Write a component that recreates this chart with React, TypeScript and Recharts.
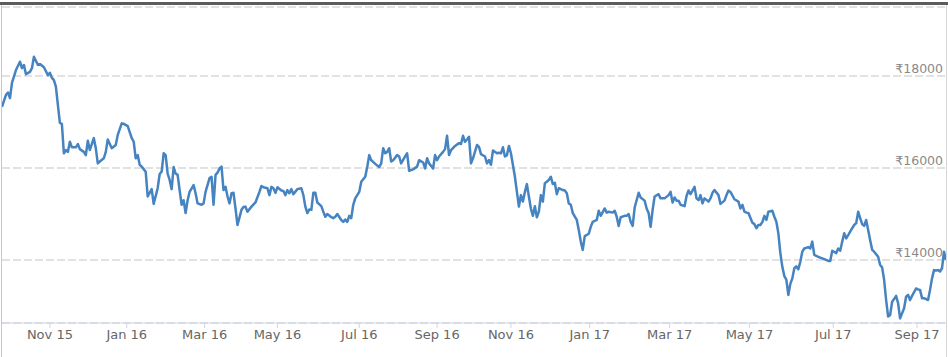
import { LineChart, Line, XAxis, YAxis, CartesianGrid } from "recharts";

// Trading session number (ordinal axis, weekends skipped) and closing price in ₹
const sessions = [
  0, 2, 3, 4, 5, 7, 9, 10, 11, 12,
  14, 15, 16, 18, 19, 21, 23, 24, 25, 26,
  27, 28, 29, 30, 31, 32, 33, 34, 35, 37,
  38, 39, 41, 42, 43, 44, 46, 47, 48, 49,
  51, 52, 53, 55, 57, 58, 60, 61, 63, 65,
  66, 67, 68, 69, 70, 72, 73, 75, 76, 78,
  79, 80, 81, 82, 83, 84, 85, 86, 87, 88,
  89, 90, 91, 92, 93, 94, 96, 97, 98, 100,
  101, 102, 104, 105, 106, 107, 108, 109, 110, 111,
  112, 113, 114, 115, 116, 117, 118, 120, 121, 122,
  123, 125, 127, 129, 130, 131, 133, 134, 135, 136,
  137, 138, 140, 141, 142, 143, 144, 145, 146, 148,
  150, 151, 152, 153, 154, 155, 156, 157, 158, 160,
  161, 162, 163, 165, 166, 167, 168, 170, 171, 172,
  173, 174, 175, 176, 177, 179, 180, 182, 183, 184,
  185, 187, 189, 190, 191, 192, 193, 194, 195, 196,
  198, 199, 200, 202, 203, 204, 206, 208, 209, 211,
  212, 213, 214, 216, 217, 218, 219, 221, 222, 223,
  224, 225, 227, 229, 230, 231, 232, 233, 234, 235,
  236, 238, 239, 240, 242, 243, 244, 245, 246, 248,
  249, 250, 251, 252, 253, 254, 255, 257, 258, 259,
  260, 261, 262, 263, 264, 265, 266, 267, 268, 269,
  270, 271, 272, 273, 274, 275, 276, 277, 278, 279,
  281, 282, 283, 284, 285, 286, 288, 289, 290, 291,
  292, 294, 295, 296, 298, 299, 300, 302, 303, 304,
  306, 307, 308, 309, 310, 312, 313, 314, 315, 316,
  317, 319, 320, 322, 323, 324, 325, 326, 327, 329,
  330, 332, 334, 335, 336, 337, 338, 339, 340, 342,
  343, 344, 345, 347, 348, 349, 350, 351, 352, 354,
  355, 356, 357, 359, 360, 362, 363, 364, 365, 367,
  369, 370, 371, 372, 373, 374, 376, 377, 378, 379,
  380, 381, 382, 383, 384, 386, 387, 388, 389, 390,
  391, 392, 393, 394, 395, 396, 397, 398, 399, 400,
  401, 402, 404, 405, 406, 407, 409, 410, 412, 414,
  415, 416, 418, 419, 420, 421, 422, 423, 424, 426,
  427, 428, 429, 430, 431, 432, 433, 434, 435, 436,
  437, 439, 440, 441, 442, 443, 444, 445, 446, 447,
  448, 449, 450, 451, 452, 453, 454, 455, 456, 458,
  459, 460, 461, 462, 464, 465, 466, 467, 468, 469,
  470, 471, 472, 473,
];

const closes = [
  17330, 17590, 17640, 17520, 17850, 18130, 18310, 18170, 18240, 18040,
  18090, 18170, 18420, 18240, 18260, 18190, 18020, 18070, 17960, 17910,
  17770, 17370, 16980, 16960, 16320, 16390, 16350, 16570, 16450, 16450,
  16520, 16410, 16350, 16280, 16590, 16390, 16650, 16430, 16100, 16140,
  16210, 16350, 16620, 16430, 16500, 16720, 16970, 16960, 16910, 16650,
  16570, 16210, 16280, 16070, 16030, 15920, 15380, 15540, 15220, 15560,
  15870, 15920, 16320, 16280, 15880, 15740, 15540, 16020, 15880, 15850,
  15520, 15200, 15300, 15020, 15300, 15480, 15630, 15450, 15230, 15200,
  15230, 15480, 15780, 15810, 15200, 15850, 15900, 15990, 16030, 15520,
  15590, 15380, 15230, 15450, 15460, 15120, 14760, 15090, 15150, 15160,
  15050, 15160, 15250, 15480, 15610, 15580, 15560, 15410, 15590, 15560,
  15460, 15580, 15510, 15500, 15410, 15520, 15450, 15540, 15430, 15540,
  15560, 15410, 15160, 15020, 15100, 15090, 15460, 15460, 15250, 15170,
  15050, 14940, 15000, 14930, 14910, 14940, 15000, 14870, 14830, 14880,
  14830, 14960, 14910, 15200, 15340, 15480, 15700, 15810, 16020, 16280,
  16170, 16090, 16020, 16100, 16430, 16320, 16350, 16430, 16140, 16170,
  16280, 16250, 16100, 16250, 16320, 15940, 15970, 16030, 16170, 16120,
  15990, 16210, 16100, 15990, 16280, 16170, 16250, 16350, 16410, 16700,
  16280, 16390, 16480, 16540, 16520, 16700, 16570, 16620, 16680, 16100,
  16210, 16500, 16460, 16300, 16250, 16100, 16170, 16070, 16380, 16320,
  16330, 16320, 16450, 16250, 16280, 16480, 16320, 15810, 15480, 15160,
  15410, 15270, 15480, 15650, 15380, 15120, 14960, 15170, 14930, 15050,
  15410, 15270, 15670, 15700, 15740, 15810, 15650, 15680, 15430, 15560,
  15520, 15510, 15450, 15230, 15200, 15020, 14870, 14650, 14400, 14220,
  14520, 14570, 14720, 14830, 14870, 15070, 14960, 15120, 15030, 15050,
  15030, 15070, 14940, 14740, 14930, 14960, 14960, 15000, 14830, 14740,
  15140, 15460, 15360, 15290, 15120, 15020, 14720, 15090, 15380, 15430,
  15340, 15340, 15410, 15480, 15250, 15360, 15290, 15290, 15200, 15170,
  15390, 15510, 15430, 15590, 15340, 15300, 15410, 15230, 15340, 15270,
  15340, 15460, 15520, 15410, 15220, 15290, 15410, 15510, 15480, 15320,
  15270, 15120, 15200, 15050, 15030, 15020, 14810, 14780, 14690, 14760,
  14760, 14830, 14960, 14870, 15050, 15070, 14940, 14830, 14580, 14150,
  13850, 13650, 13570, 13240, 13480, 13600, 13820, 13860, 13800, 13960,
  14180, 14250, 14280, 14250, 14400, 14110, 14070, 14050, 14020, 13980,
  13980, 14200, 14150, 14250, 14200, 14400, 14580, 14470, 14540, 14690,
  14760, 14800, 15050, 14910, 14780, 14740, 14870, 14650, 14430, 14220,
  14180, 14070, 13890, 13840, 13570, 13130, 12770, 12800, 13090, 13150,
  13220, 13060, 12730, 12840, 12950, 13200, 13240, 13130, 13220, 13380,
  13360, 13350, 13170, 13170, 13130, 13350, 13600, 13780, 13770, 13780,
  13750, 13820, 14180, 14000,
];

// month ticks on the ordinal axis (session where each month starts)
const monthLabels = [
  "Nov 15", "Jan 16", "Mar 16", "May 16", "Jul 16", "Sep 16",
  "Nov 16", "Jan 17", "Mar 17", "May 17", "Jul 17", "Sep 17",
];
const monthSessions = [24, 62.5, 101.5, 138, 179, 218, 255, 294.5, 334.5, 374.5, 416.5, 458.5];

const priceTicks = [14000, 16000, 18000];

const data = sessions.map((s, i) => ({ s, close: closes[i] }));

const FONT = "'DejaVu Sans', Verdana, sans-serif";

function PriceTick({ x, y, payload }: { x?: number; y?: number; payload?: { value: number } }) {
  if (x == null || y == null || !payload) return null;
  return (
    <text x={x - 3} y={y - 3} textAnchor="end" fontSize={12.5} fill="#8a8a8a" fontFamily={FONT}>
      {`₹${payload.value}`}
    </text>
  );
}

export default function App() {
  return (
    <div style={{ position: "absolute", left: 0, top: 0, width: 948, height: 357, background: "#fff" }}>
      <div style={{ position: "absolute", left: 0, top: 2, width: 948, height: 3, background: "#5c5c5c" }} />
      <div style={{ position: "absolute", left: 1, top: 5, width: 1, height: 352, background: "#c8c8c8" }} />
      <div style={{ position: "absolute", left: 946, top: 5, width: 1, height: 352, background: "#d6d6d6" }} />
      <div style={{ position: "absolute", left: 2, top: 5 }}>
        <LineChart width={944} height={352} data={data} margin={{ top: 2, right: 0, bottom: 0, left: 0 }}>
          <CartesianGrid vertical={false} stroke="#c4c4c4" strokeDasharray="8 3" />
          <XAxis
            dataKey="s"
            type="number"
            domain={[0, 473]}
            ticks={monthSessions}
            interval={0}
            tickFormatter={(v: number) => monthLabels[monthSessions.indexOf(v)] ?? ""}
            axisLine={{ stroke: "#ccd6eb" }}
            tickLine={{ stroke: "#ccd6eb" }}
            tickSize={5}
            tickMargin={2}
            height={34}
            tick={{ fontSize: 13, fill: "#666", fontFamily: FONT }}
          />
          <YAxis
            orientation="right"
            mirror
            domain={[12630, 19500]}
            allowDataOverflow
            ticks={priceTicks}
            axisLine={false}
            tickLine={false}
            tickSize={0}
            tickMargin={0}
            tick={<PriceTick />}
          />
          <Line
            type="linear"
            dataKey="close"
            stroke="#4683c1"
            strokeWidth={2.5}
            strokeLinejoin="round"
            dot={false}
            isAnimationActive={false}
          />
        </LineChart>
      </div>
    </div>
  );
}
